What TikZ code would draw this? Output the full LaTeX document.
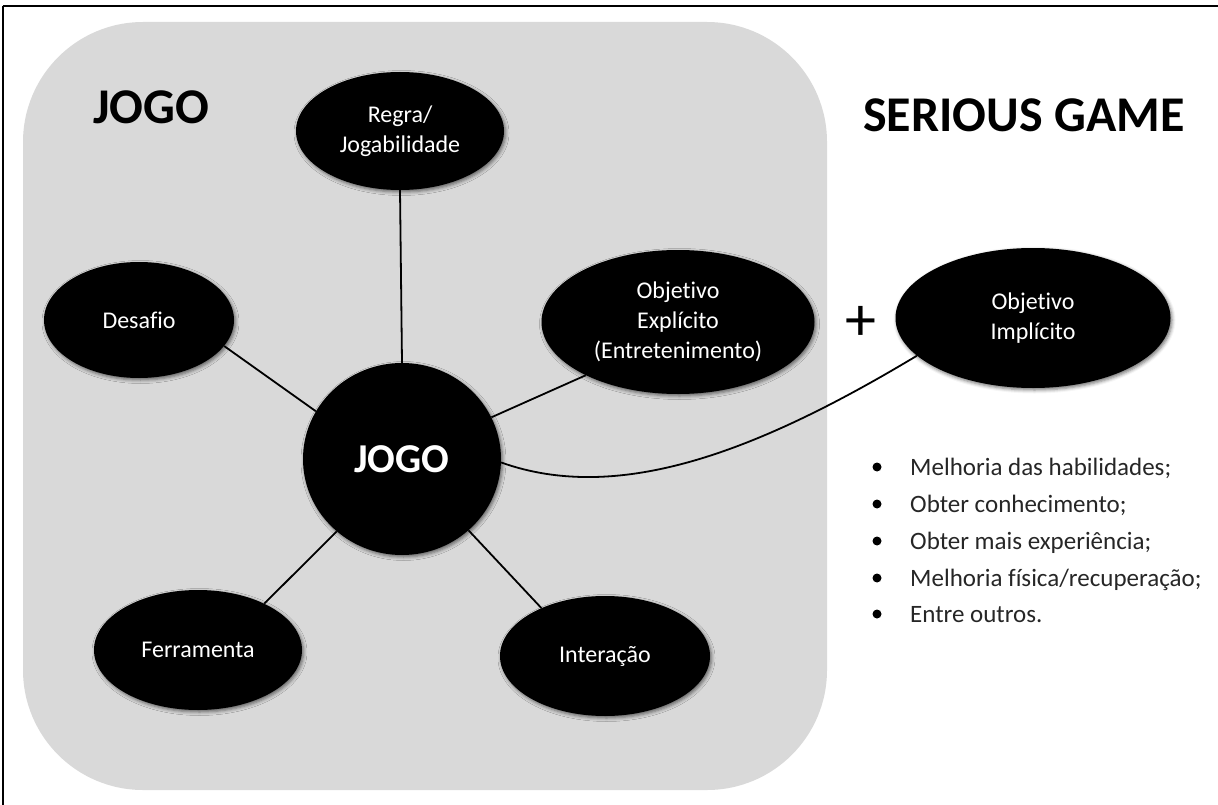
\documentclass[tikz,border=0pt]{standalone}
\usepackage{fontspec}
\setmainfont{Carlito}[Ligatures={NoCommon}]
\usetikzlibrary{shapes.geometric,shadows.blur}
\definecolor{boxgray}{HTML}{D9D9D9}
\tikzset{
  bubble/.style={ellipse, fill=black, inner sep=0pt, text=white, align=center,
    font=\fontsize{24}{30}\selectfont,
    blur shadow={shadow xshift=1.5pt, shadow yshift=-2pt, shadow blur radius=3.5pt, shadow opacity=55}},
  link/.style={line width=1.8pt, black},
  title/.style={font=\bfseries\fontsize{50}{56}\selectfont, anchor=base west, inner sep=0pt},
  item/.style={font=\fontsize{25}{30}\selectfont, anchor=base west, inner sep=0pt, text=black!85},
  dot/.style={circle, fill=black, inner sep=0pt, minimum size=9pt}
}
\begin{document}
\begin{tikzpicture}[x=1pt, y=-1pt]
\useasboundingbox (0,0) rectangle (1218,805);
% frame
\draw[line width=2.8pt] (2.5,6) -- (1218,6);
\draw[line width=1.6pt] (3,6) -- (3,805);
% gray panel
\fill[boxgray, rounded corners=120pt] (23,22) rectangle (827,790);
% titles
\node[title] (t1) at (93,124) {JOGO};
\node[title] (t2) at (863,132) {SERIOUS GAME};
% bubbles
\node[bubble, minimum width=208pt, minimum height=118pt] (reg) at (400,131) {Regra/\\Jogabilidade};
\node[bubble, minimum width=190pt, minimum height=116pt] (des) at (139,320) {Desafio};
\node[bubble, minimum width=273pt, minimum height=144pt] (exp) at (678,322) {Objetivo\\Explícito\\(Entretenimento)};
\node[bubble, minimum width=198pt, minimum height=192pt, font=\bfseries\fontsize{41}{46}\selectfont] (jogo) at (402,459) {JOGO};
\node[bubble, minimum width=208pt, minimum height=120pt] (fer) at (198,650) {Ferramenta};
\node[bubble, minimum width=210pt, minimum height=120pt] (int) at (605,656) {Interação};
\node[bubble, minimum width=275pt, minimum height=140pt] (imp) at (1033,318) {Objetivo\\Implícito};
% plus sign
\node[font=\fontsize{62}{62}\selectfont, inner sep=0pt] (plus) at (861,323) {+};
% connectors
\draw[link] (reg.south) -- (jogo.north);
\draw[link] (des.-17) -- (jogo.151);
\draw[link] (exp.-150) -- (jogo.25);
\draw[link] (fer.35) -- (jogo.228);
\draw[link] (int.143) -- (jogo.-47);
\draw[link] (jogo.-2) .. controls (620,505) and (760,450) .. (imp.198);
% bullet list
\node[dot] (b1) at (877,467) {};
\node[dot] (b2) at (877,504) {};
\node[dot] (b3) at (877,541) {};
\node[dot] (b4) at (877,578) {};
\node[dot] (b5) at (877,614) {};
\node[item] (l1) at (910,475) {Melhoria das habilidades;};
\node[item] (l2) at (910,512) {Obter conhecimento;};
\node[item] (l3) at (910,549) {Obter mais experiência;};
\node[item] (l4) at (910,586) {Melhoria física/recuperação;};
\node[item] (l5) at (910,622) {Entre outros.};
\end{tikzpicture}
\end{document}
